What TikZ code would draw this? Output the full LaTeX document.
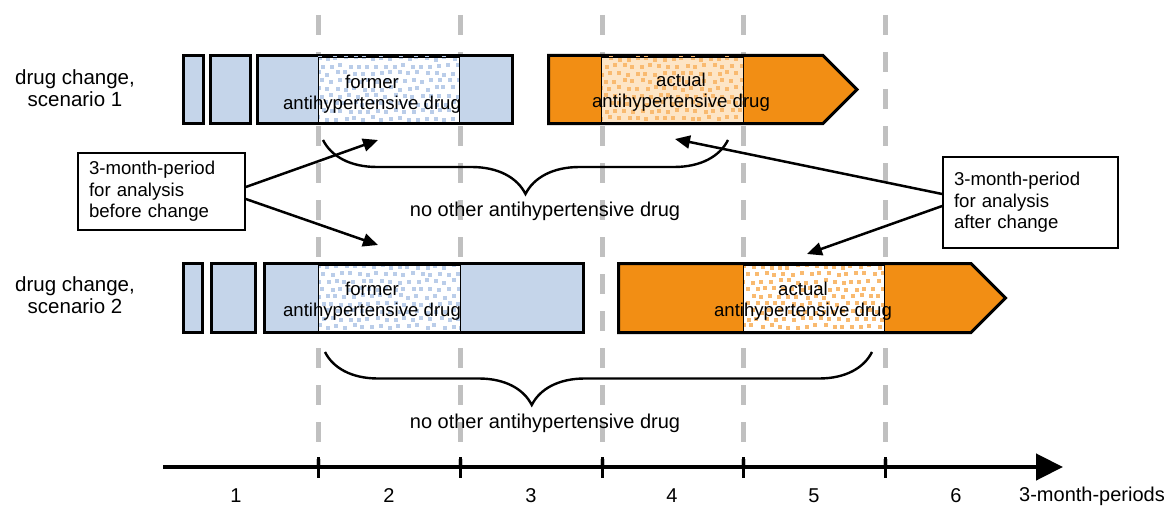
\documentclass[tikz,border=0pt]{standalone}
\usepackage{fontspec}
\setmainfont{Liberation Sans}
\usetikzlibrary{arrows.meta, decorations.pathreplacing}
\definecolor{drugblue}{RGB}{197, 213, 234}
\definecolor{drugorange}{RGB}{242, 142, 20}
\definecolor{dotblue}{RGB}{186, 205, 233}
\definecolor{dotorange}{RGB}{249, 186, 112}
\definecolor{creamorange}{RGB}{253, 229, 198}
\definecolor{guide}{RGB}{192, 192, 192}

% speckled period: x1, y1, x2, y2, background, dots
\newcommand{\speckle}[6]{%
  \begin{scope}
    \clip (#1,#2) rectangle (#3,#4);
    \fill[#5] (#1,#2) rectangle (#3,#4);
    \foreach \i in {0,...,16}{
      \foreach \j in {0,...,9}{
        \pgfmathsetmacro{\spx}{#1+\i*9+mod(\j,2)*4.5+rnd*3-3}
        \pgfmathsetmacro{\spy}{#2+\j*7.5+rnd*3-2}
        \fill[#6] (\spx,\spy) rectangle ++(4,4);
      }
    }
  \end{scope}
  \draw[line width=0.8pt] (#1,#2) rectangle (#3,#4);
}

\begin{document}
\begin{tikzpicture}[x=1pt, y=-1pt,
    bluebar/.style={draw=black, line width=3pt, fill=drugblue},
    orangebar/.style={draw=black, line width=3pt, fill=drugorange},
    bartext/.style={align=center, font=\fontsize{18.6}{21.5}\selectfont, inner sep=0pt},
    notebox/.style={draw, line width=1.6pt, fill=white, align=left,
                    font=\fontsize{18.6}{21.5}\selectfont, inner xsep=11pt},
    rowlabel/.style={align=center, font=\fontsize{20.5}{22.5}\selectfont},
    note/.style={font=\fontsize{20}{22}\selectfont},
    guideline/.style={guide, line width=5pt, dash pattern=on 20pt off 17pt},
    pointer/.style={-{Triangle[length=15pt, width=13pt]}, line width=2.5pt},
    curly/.style={decorate, line width=2.4pt}]
    \useasboundingbox (0,0) rectangle (1171,511);
    \pgfmathsetseed{17}

    % Period borders
    \foreach \x in {318, 460, 602, 743, 885}
        \draw[guideline] (\x,15) -- (\x,466);

    % Scenario 1
    \node[rowlabel] (row1) at (75,88) {drug change,\\scenario 1};
    \draw[bluebar] (183.5,55.5) rectangle (203.5,123.5);
    \draw[bluebar] (210.5,55.5) rectangle (250.5,123.5);
    \draw[bluebar] (257.5,55.5) rectangle (512.5,123.5);
    \speckle{318}{57}{459}{122}{white}{dotblue}
    \draw[orangebar] (548.5,55.5) -- (823,55.5) -- (857,89.5) -- (823,123.5) -- (548.5,123.5) -- cycle;
    \speckle{601}{57}{743}{122}{creamorange}{dotorange}
    \node[bartext] (former1) at (372,94) {former\\antihypertensive drug};
    \node[bartext] (actual1) at (681,92) {actual\\antihypertensive drug};

    % Scenario 2
    \node[rowlabel] (row2) at (75,295) {drug change,\\scenario 2};
    \draw[bluebar] (183.5,263.5) rectangle (202.5,332.5);
    \draw[bluebar] (211.5,263.5) rectangle (255.5,332.5);
    \draw[bluebar] (264.5,263.5) rectangle (583.5,332.5);
    \speckle{318}{265}{460}{331}{white}{dotblue}
    \draw[orangebar] (618.5,263.5) -- (971,263.5) -- (1005.5,298) -- (971,332.5) -- (618.5,332.5) -- cycle;
    \speckle{743}{265}{884}{331}{white}{dotorange}
    \node[bartext] (former2) at (372,301) {former\\antihypertensive drug};
    \node[bartext] (actual2) at (803,301) {actual\\antihypertensive drug};

    % Braces
    \coordinate (b1l) at (323,140);
    \coordinate (b1r) at (728,140);
    \coordinate (b2l) at (325,352);
    \coordinate (b2r) at (872,352);
    \draw[curly, decoration={brace, mirror, amplitude=54pt}] (b1l) -- (b1r);
    \draw[curly, decoration={brace, mirror, amplitude=53pt, aspect=0.378}] (b2l) -- (b2r);
    \node[note] (none1) at (545,211) {no other antihypertensive drug};
    \node[note] (none2) at (545,423) {no other antihypertensive drug};

    % Analysis periods
    \node[notebox, text width=145pt, minimum height=77pt] (before) at (161.5,191.5)
        {3-month-period\\for analysis\\before change};
    \node[notebox, text width=153pt, minimum height=91pt] (after) at (1030.5,202.5)
        {3-month-period\\for analysis\\after change};
    \coordinate (t1) at (378,140);
    \coordinate (t2) at (378,245);
    \coordinate (t3) at (675,139);
    \coordinate (t4) at (807,254);
    \draw[pointer] ([yshift=4.5pt]before.east) -- (t1);
    \draw[pointer] ([yshift=-7.5pt]before.east) -- (t2);
    \draw[pointer] ([yshift=8.5pt]after.west) -- (t3);
    \draw[pointer] ([yshift=-3.5pt]after.west) -- (t4);

    % Time axis
    \coordinate (ax0) at (163,467);
    \coordinate (ax1) at (1063,467);
    \draw[line width=4.5pt, -{Triangle[length=27pt, width=26pt]}] (ax0) -- (ax1);
    \foreach \x in {318, 460, 602, 743, 885}
        \draw[line width=3pt] (\x,457) -- (\x,478);
    \foreach \n/\x in {1/236, 2/389, 3/531, 4/672, 5/814, 6/956}
        \node[note] (q\n) at (\x,496) {\n};
    \node[note] (unit) at (1092,496) {3-month-periods};
\end{tikzpicture}
\end{document}
